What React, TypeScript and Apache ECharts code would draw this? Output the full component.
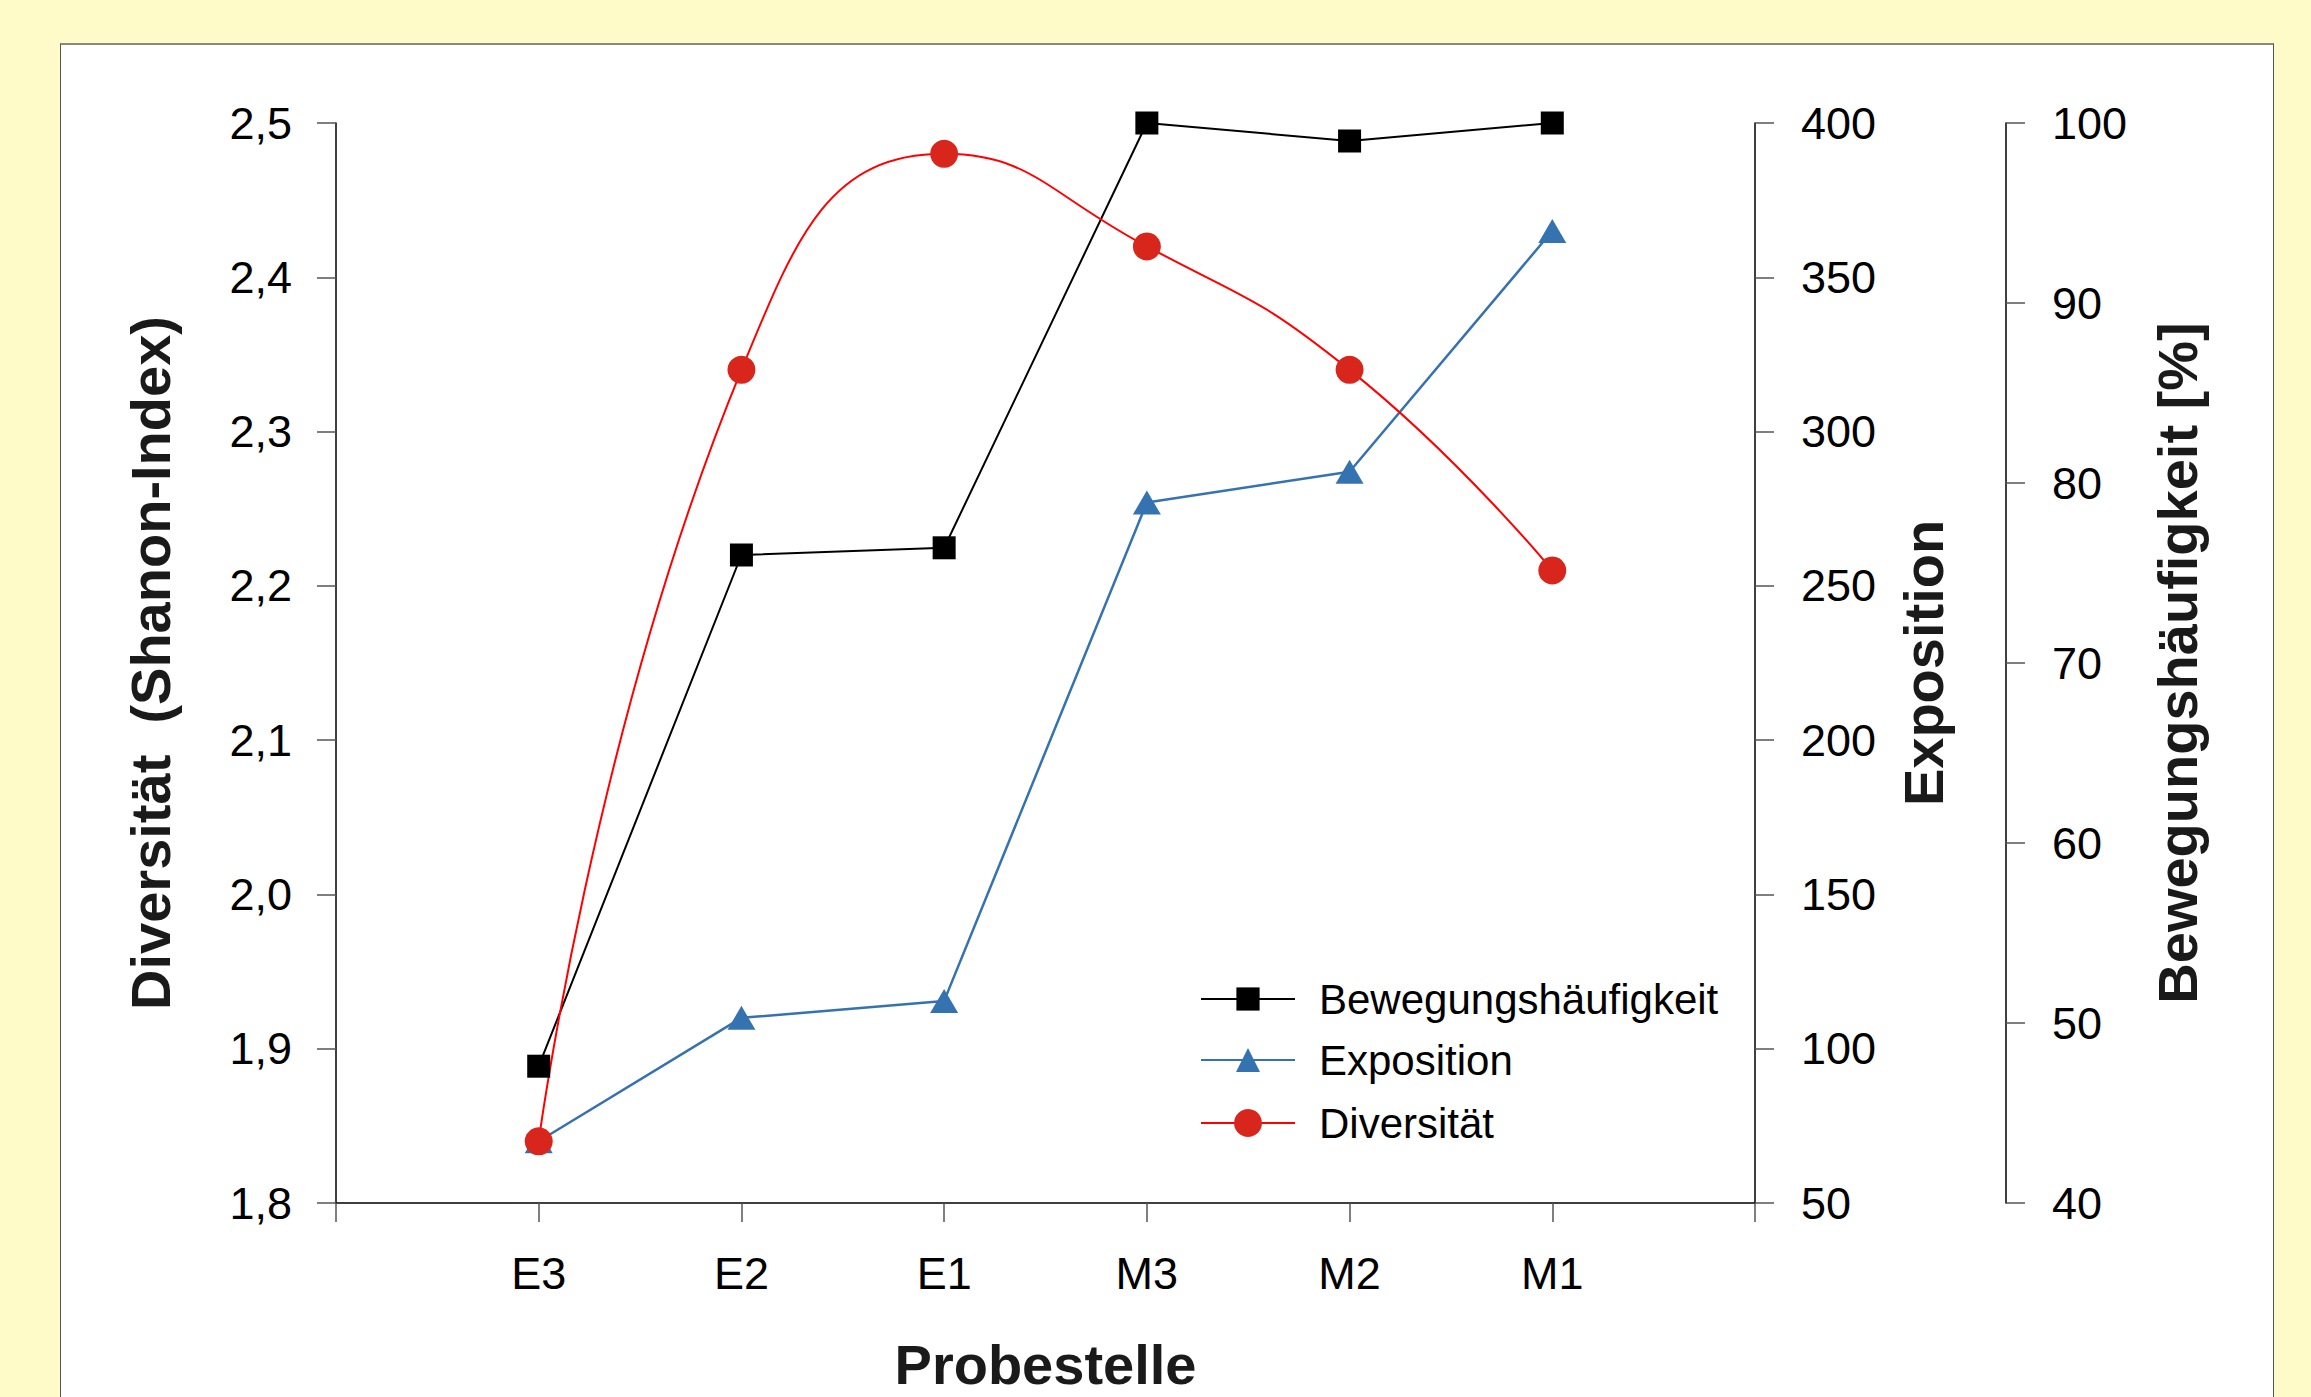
import React, { useEffect, useRef } from "react";
import * as echarts from "echarts";

const categories = ["E3", "E2", "E1", "M3", "M2", "M1"];
const categoryPositions = [1, 2, 3, 4, 5, 6];
const bewegungValues = [47.6, 76.0, 76.4, 100, 99.0, 100];
const expositionValues = [70, 110, 115.5, 277, 287, 365];
const diversitaetValues = [1.84, 2.34, 2.48, 2.42, 2.34, 2.21];

const FONT = "'Liberation Sans', Arial, Helvetica, sans-serif";
const W = 2311;
const H = 1397;

function pairs(vals: number[]) {
  return vals.map((v, i) => [categoryPositions[i], v]);
}

export default function App() {
  const ref = useRef<HTMLDivElement>(null);
  useEffect(() => {
    document.body.style.margin = "0";
    if (!ref.current) return;
    const chart = echarts.init(ref.current, null, { renderer: "svg" });
    const tickLabel = { fontSize: 45, color: "#000", fontFamily: FONT };
    const nameStyle = { fontSize: 56, fontWeight: "bold", color: "#1a1a1a", fontFamily: FONT };
    const axisLine = { show: true, onZero: false, lineStyle: { color: "#000", width: 1.5 } };
    const axisTick = { show: true, inside: false, length: 19, lineStyle: { color: "#555", width: 1.5 } };
    const legendText = { fontSize: 42, color: "#000", fontFamily: FONT, lineHeight: 42, padding: [0, 0, 0, 19] };
    const legendBase = { orient: "vertical", left: 1200, padding: 0, itemWidth: 94, selectedMode: false, textStyle: legendText };
    chart.setOption({
      animation: false,
      backgroundColor: "transparent",
      grid: { left: 336, width: 1755 - 336, top: 123, height: 1207.7 - 123, containLabel: false },
      legend: [
        { ...legendBase, data: ["Bewegungshäufigkeit"], top: 999 - 21, itemHeight: 29 },
        { ...legendBase, data: ["Exposition"], top: 1060 - 21, itemHeight: 30 },
        { ...legendBase, data: ["Diversität"], top: 1123 - 21, itemHeight: 35 },
      ],
      xAxis: {
        type: "value",
        min: 0,
        max: 7,
        interval: 1,
        axisLine,
        axisTick,
        splitLine: { show: false },
        axisLabel: {
          ...tickLabel,
          margin: 48,
          formatter: (v: number) => categories[v - 1] ?? "",
        },
        name: "Probestelle",
        nameLocation: "middle",
        nameGap: 133,
        nameTextStyle: nameStyle,
      },
      yAxis: [
        {
          type: "value",
          position: "left",
          min: 1.8,
          max: 2.5,
          interval: 0.1,
          axisLine,
          axisTick,
          splitLine: { show: false },
          axisLabel: { ...tickLabel, margin: 44, formatter: (v: number) => v.toFixed(1).replace(".", ",") },
          name: "Diversität  (Shanon-Index)",
          nameLocation: "middle",
          nameRotate: 90,
          nameGap: 158,
          nameTextStyle: nameStyle,
        },
        {
          type: "value",
          position: "right",
          offset: 0,
          min: 50,
          max: 400,
          interval: 50,
          axisLine,
          axisTick,
          splitLine: { show: false },
          axisLabel: { ...tickLabel, margin: 46 },
          name: "Exposition",
          nameLocation: "middle",
          nameRotate: 90,
          nameGap: 140,
          nameTextStyle: nameStyle,
        },
        {
          type: "value",
          position: "right",
          offset: 251,
          min: 40,
          max: 100,
          interval: 10,
          axisLine,
          axisTick,
          splitLine: { show: false },
          axisLabel: { ...tickLabel, margin: 46 },
          name: "Bewegungshäufigkeit [%]",
          nameLocation: "middle",
          nameRotate: 90,
          nameGap: 143,
          nameTextStyle: nameStyle,
        },
      ],
      series: [
        {
          name: "Bewegungshäufigkeit",
          type: "line",
          yAxisIndex: 2,
          data: pairs(bewegungValues),
          symbol: "rect",
          symbolSize: 23,
          itemStyle: { color: "#000" },
          lineStyle: { color: "#000", width: 2 },
        },
        {
          name: "Exposition",
          type: "line",
          yAxisIndex: 1,
          data: pairs(expositionValues),
          symbol: "triangle",
          symbolSize: [28, 24],
          itemStyle: { color: "#3572B0" },
          lineStyle: { color: "#3572B0", width: 2.5 },
        },
        {
          name: "Diversität",
          type: "line",
          yAxisIndex: 0,
          data: pairs(diversitaetValues),
          symbol: "circle",
          symbolSize: 28,
          smooth: 0.5,
          itemStyle: { color: "#D9261C" },
          lineStyle: { color: "#FF0000", width: 2 },
        },
      ],
    });
    return () => chart.dispose();
  }, []);

  return (
    <div style={{ position: "absolute", left: 0, top: 0, width: W, height: H, background: "#FFFBC9", overflow: "hidden" }}>
      <div
        style={{
          position: "absolute",
          left: 60,
          top: 43,
          width: 2212,
          height: 1400,
          background: "#fff",
          borderLeft: "1.5px solid #555",
          borderRight: "1.5px solid #555",
          borderTop: "2px solid #8a8a7a",
        }}
      />
      <div ref={ref} style={{ position: "absolute", left: 0, top: 0, width: W, height: H }} />
    </div>
  );
}
